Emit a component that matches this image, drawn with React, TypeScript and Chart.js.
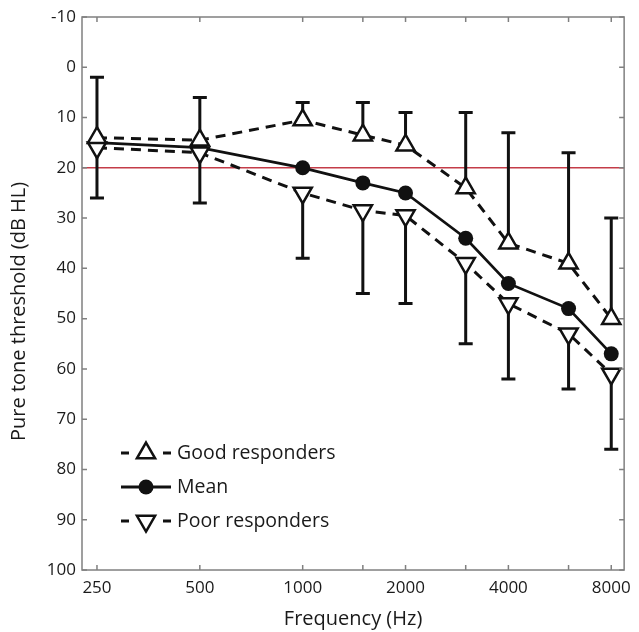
import { useEffect, useRef } from 'react';
import { Chart, registerables } from 'chart.js';
Chart.register(...registerables);

const frequencies = [250, 500, 1000, 1500, 2000, 3000, 4000, 6000, 8000];
const labeledFrequencies = [250, 500, 1000, 2000, 4000, 8000];
const goodResponders = [14, 14.5, 10.5, 13.5, 15.5, 24, 35, 39, 50];
const meanValues = [15, 16, 20, 23, 25, 34, 43, 48, 57];
const poorResponders = [16, 17, 25, 28.5, 29.5, 39, 47, 53, 61];
const goodUpperError = [2, 6, 7, 7, 9, 9, 13, 17, 30];
const poorLowerError = [26, 27, 38, 45, 47, 55, 62, 64, 76];
const yTickValues = [-10, 0, 10, 20, 30, 40, 50, 60, 70, 80, 90, 100];
const referenceLevel = 20;
const legendLabels = ['Good responders', 'Mean', 'Poor responders'];
const xTitle = 'Frequency (Hz)';
const yTitle = 'Pure tone threshold (dB HL)';

const FONT = '"Open Sans", "Noto Sans", sans-serif';
const INK = '#111111';
const TEXT = '#1a1a1a';

const pts = (vals: number[]) => frequencies.map((f, i) => ({ x: f, y: vals[i] }));

const decorPlugin = {
  id: 'decor',
  beforeDatasetsDraw(chart: any) {
    const { ctx, chartArea: a, scales } = chart;
    const xs = scales.x, ys = scales.y;
    ctx.save();
    // reference line
    ctx.strokeStyle = '#c43c48';
    ctx.lineWidth = 1.5;
    const ry = ys.getPixelForValue(referenceLevel);
    ctx.beginPath();
    ctx.moveTo(a.left, ry);
    ctx.lineTo(a.right, ry);
    ctx.stroke();
    // error bars
    ctx.strokeStyle = INK;
    ctx.lineWidth = 3;
    const cap = 7;
    frequencies.forEach((f, i) => {
      const px = xs.getPixelForValue(f);
      const bars: [number, number][] = [
        [goodResponders[i], goodUpperError[i]],
        [poorResponders[i], poorLowerError[i]],
      ];
      bars.forEach(([from, to]) => {
        const y0 = ys.getPixelForValue(from);
        const y1 = ys.getPixelForValue(to);
        ctx.beginPath();
        ctx.moveTo(px, y0);
        ctx.lineTo(px, y1);
        ctx.moveTo(px - cap, y1);
        ctx.lineTo(px + cap, y1);
        ctx.stroke();
      });
    });
    ctx.restore();
  },
  afterDraw(chart: any) {
    const { ctx, chartArea: a, scales } = chart;
    const xs = scales.x, ys = scales.y;
    ctx.save();
    // frame
    ctx.strokeStyle = '#808080';
    ctx.lineWidth = 1.5;
    ctx.strokeRect(a.left, a.top, a.right - a.left, a.bottom - a.top);
    // inward ticks
    const tl = 5;
    ctx.beginPath();
    frequencies.forEach((f) => {
      const px = xs.getPixelForValue(f);
      ctx.moveTo(px, a.bottom);
      ctx.lineTo(px, a.bottom - tl);
      ctx.moveTo(px, a.top);
      ctx.lineTo(px, a.top + tl);
    });
    yTickValues.forEach((v) => {
      const py = ys.getPixelForValue(v);
      ctx.moveTo(a.left, py);
      ctx.lineTo(a.left + tl, py);
      ctx.moveTo(a.right, py);
      ctx.lineTo(a.right - tl, py);
    });
    ctx.stroke();

    // y axis title
    ctx.save();
    ctx.translate(19, 441);
    ctx.rotate(-Math.PI / 2);
    ctx.font = `20px ${FONT}`;
    ctx.fillStyle = TEXT;
    ctx.textAlign = 'left';
    ctx.textBaseline = 'middle';
    ctx.fillText(yTitle, 0, 0);
    ctx.restore();

    // legend
    const lx0 = 121, lx1 = 171, mx = 146, tx = 177;
    const rows = [453, 487, 521];
    ctx.font = `19.5px ${FONT}`;
    ctx.textBaseline = 'middle';
    ctx.textAlign = 'left';
    rows.forEach((ry, i) => {
      ctx.strokeStyle = INK;
      ctx.lineWidth = 3;
      ctx.beginPath();
      if (i === 1) {
        ctx.moveTo(lx0, ry);
        ctx.lineTo(lx1, ry);
      } else {
        ctx.moveTo(lx0, ry);
        ctx.lineTo(lx0 + 8, ry);
        ctx.moveTo(lx1 - 8, ry);
        ctx.lineTo(lx1, ry);
      }
      ctx.stroke();
      ctx.beginPath();
      if (i === 1) {
        ctx.arc(mx, ry, 7.5, 0, Math.PI * 2);
        ctx.fillStyle = INK;
        ctx.fill();
      } else {
        const r = 10.5;
        const dir = i === 0 ? 1 : -1;
        ctx.moveTo(mx, ry - dir * r);
        ctx.lineTo(mx + r * 0.866, ry + dir * r * 0.5);
        ctx.lineTo(mx - r * 0.866, ry + dir * r * 0.5);
        ctx.closePath();
        ctx.fillStyle = '#ffffff';
        ctx.fill();
        ctx.lineWidth = 2.5;
        ctx.stroke();
      }
      ctx.fillStyle = TEXT;
      ctx.fillText(legendLabels[i], tx, ry);
    });
    ctx.restore();
  },
};

export default function App() {
  const ref = useRef<HTMLCanvasElement | null>(null);
  useEffect(() => {
    document.body.style.margin = '0';
    if (!ref.current) return;
    const chart = new Chart(ref.current, {
      type: 'line',
      data: {
        datasets: [
          {
            label: legendLabels[0],
            data: pts(goodResponders),
            borderColor: INK,
            borderWidth: 3,
            borderDash: [10, 7],
            pointStyle: 'triangle',
            pointRadius: 10.5,
            pointBorderWidth: 2.5,
            pointBackgroundColor: '#ffffff',
            pointBorderColor: INK,
            tension: 0,
          },
          {
            label: legendLabels[2],
            data: pts(poorResponders),
            borderColor: INK,
            borderWidth: 3,
            borderDash: [10, 7],
            pointStyle: 'triangle',
            pointRotation: 180,
            pointRadius: 10.5,
            pointBorderWidth: 2.5,
            pointBackgroundColor: '#ffffff',
            pointBorderColor: INK,
            tension: 0,
          },
          {
            label: legendLabels[1],
            data: pts(meanValues),
            borderColor: INK,
            borderWidth: 2.7,
            pointStyle: 'circle',
            pointRadius: 7.5,
            pointBorderWidth: 0,
            pointBackgroundColor: INK,
            tension: 0,
          },
        ],
      },
      options: {
        animation: false,
        responsive: false,
        maintainAspectRatio: false,
        layout: { padding: { top: 17, right: 10, left: 0, bottom: 0 } },
        plugins: { legend: { display: false }, tooltip: { enabled: false } },
        scales: {
          x: {
            type: 'logarithmic',
            min: 226,
            max: 8726,
            grid: { display: false, drawTicks: false },
            border: { display: false },
            afterBuildTicks: (s: any) => {
              s.ticks = frequencies.map((v) => ({ value: v }));
            },
            afterFit: (s: any) => {
              s.height = 62;
            },
            ticks: {
              autoSkip: false,
              maxRotation: 0,
              padding: 8,
              color: TEXT,
              font: { family: FONT, size: 17 },
              callback: (v: any) => (labeledFrequencies.includes(Number(v)) ? String(v) : ''),
            },
            title: {
              display: true,
              text: xTitle,
              color: TEXT,
              font: { family: FONT, size: 20 },
              padding: { top: 0, bottom: 1 },
            },
          },
          y: {
            reverse: true,
            min: -10,
            max: 100,
            grid: { display: false, drawTicks: false },
            border: { display: false },
            afterBuildTicks: (s: any) => {
              s.ticks = yTickValues.map((v) => ({ value: v }));
            },
            afterFit: (s: any) => {
              s.width = 82;
            },
            ticks: {
              padding: 6,
              color: TEXT,
              font: { family: FONT, size: 17 },
            },
          },
        },
      },
      plugins: [decorPlugin],
    });
    return () => chart.destroy();
  }, []);
  return (
    <div style={{ width: 639, height: 632 }}>
      <canvas ref={ref} width={639} height={632} style={{ width: 639, height: 632, display: 'block' }} />
    </div>
  );
}
